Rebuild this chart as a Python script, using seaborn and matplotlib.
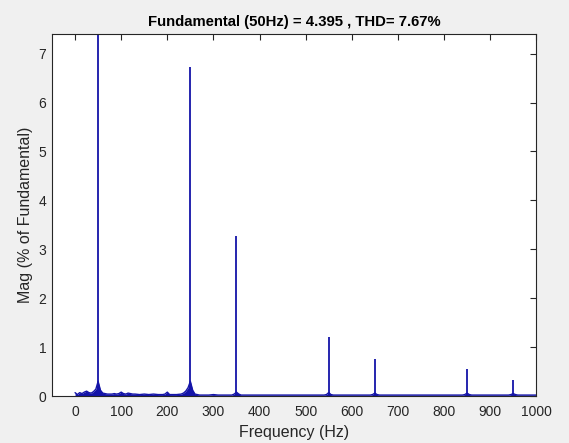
import matplotlib
matplotlib.use("Agg")
import matplotlib.pyplot as plt
import seaborn as sns
import pandas as pd

# ---- data ----
harmonic_hz = [50, 250, 350, 550, 650, 850, 950]
harmonic_mag = [100.0, 6.72, 3.27, 1.21, 0.76, 0.55, 0.33]

floor_hz = [0, 5, 10, 15, 20, 25, 30, 35, 40, 45, 50, 55, 60, 65, 70, 75, 80, 85, 90, 95,
            100, 105, 110, 115, 120, 125, 130, 140, 150, 160, 170, 180, 190, 195, 200, 205,
            210, 220, 230, 235, 240, 245, 250, 255, 260, 270, 280, 290, 300, 310, 320, 330,
            340, 345, 350, 355, 360, 380, 400, 420, 440, 460, 480, 500, 520, 540, 545, 550,
            555, 560, 580, 600, 620, 640, 645, 650, 655, 660, 680, 700, 720, 740, 760, 780,
            800, 820, 840, 845, 850, 855, 860, 880, 900, 920, 940, 945, 950, 955, 960, 980, 1000]
floor_mag = [0.07, 0.03, 0.07, 0.05, 0.08, 0.10, 0.07, 0.06, 0.09, 0.14, 0.30, 0.12, 0.06, 0.05, 0.04, 0.04, 0.04, 0.05, 0.04, 0.05,
             0.08, 0.05, 0.04, 0.06, 0.05, 0.04, 0.04, 0.03, 0.04, 0.03, 0.04, 0.03, 0.03, 0.04, 0.08, 0.03,
             0.03, 0.03, 0.04, 0.06, 0.10, 0.17, 0.30, 0.12, 0.04, 0.02, 0.02, 0.02, 0.03, 0.02, 0.02, 0.02,
             0.02, 0.04, 0.08, 0.04, 0.02, 0.02, 0.02, 0.02, 0.02, 0.02, 0.02, 0.02, 0.02, 0.02, 0.03, 0.07,
             0.03, 0.02, 0.02, 0.02, 0.02, 0.02, 0.03, 0.06, 0.03, 0.02, 0.02, 0.02, 0.02, 0.02, 0.02, 0.02,
             0.02, 0.02, 0.02, 0.03, 0.06, 0.03, 0.02, 0.02, 0.02, 0.02, 0.02, 0.03, 0.05, 0.03, 0.02, 0.02, 0.02]

x_ticks = [0, 100, 200, 300, 400, 500, 600, 700, 800, 900, 1000]
y_ticks = [0, 1, 2, 3, 4, 5, 6, 7]

title = "Fundamental (50Hz) = 4.395 , THD= 7.67%"
xlabel = "Frequency (Hz)"
ylabel = "Mag (% of Fundamental)"

# ---- style ----
sns.set_theme(style="white")
plt.rcParams["font.family"] = ["Liberation Sans", "DejaVu Sans"]

blue = "#1414A8"
dark = "#262626"

fig = plt.figure(figsize=(5.69, 4.43), dpi=100, facecolor="#F0F0F0")
ax = fig.add_axes([0.0914, 0.106, 0.851, 0.817])
ax.set_facecolor("white")

df_floor = pd.DataFrame({"hz": floor_hz, "mag": floor_mag})
sns.lineplot(data=df_floor, x="hz", y="mag", ax=ax, color=blue, lw=1.0)
ax.fill_between(df_floor["hz"], df_floor["mag"], color=blue, lw=0)
ax.vlines(harmonic_hz, 0, harmonic_mag, color=blue, lw=1.3)

ax.set_xlim(-50, 1000)
ax.set_ylim(0, 7.4)
ax.set_xticks(x_ticks)
ax.set_yticks(y_ticks)
ax.tick_params(direction="in", top=True, right=True, length=4, width=0.8,
               colors=dark, labelsize=10, labelcolor=dark)
ax.tick_params(axis="x", pad=6.5)
ax.tick_params(axis="y", pad=4)
for s in ax.spines.values():
    s.set_color(dark)
    s.set_linewidth(0.8)

ax.set_title(title, fontsize=10.7, fontweight="bold", color="black", pad=6)
ax.set_xlabel(xlabel, fontsize=11.5, color=dark, labelpad=4)
ax.set_ylabel(ylabel, fontsize=11.5, color=dark, labelpad=4)

fig.savefig("out.png", dpi=100, facecolor=fig.get_facecolor())
